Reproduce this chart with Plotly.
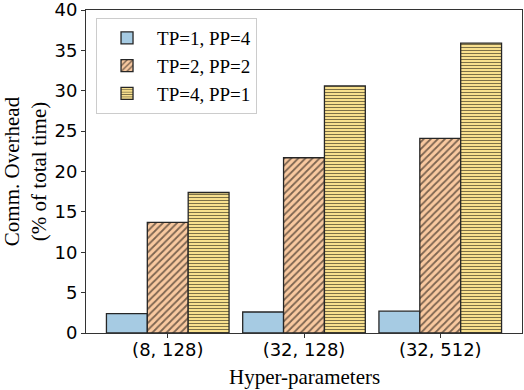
"""
Comm. overhead bar chart by hyper-parameters.
"""

import plotly.graph_objects as go

CATEGORIES = ["(8, 128)", "(32, 128)", "(32, 512)"]
SERIES_NAMES = ["TP=1, PP=4", "TP=2, PP=2", "TP=4, PP=1"]
TP1_PP4 = [2.4, 2.6, 2.7]
TP2_PP2 = [13.7, 21.7, 24.1]
TP4_PP1 = [17.4, 30.6, 35.9]
Y_TICKS = [0, 5, 10, 15, 20, 25, 30, 35, 40]

SERIF = "Liberation Serif, Times New Roman, serif"
SANS = "DejaVu Sans, sans-serif"

styles = [
    dict(color="#a6cbe3", shape=""),
    dict(color="#f9c9a0", shape="/"),
    dict(color="#f8e08e", shape="-"),
]

fig = go.Figure()
for name, vals, st in zip(SERIES_NAMES, [TP1_PP4, TP2_PP2, TP4_PP1], styles):
    pattern = dict(shape=st["shape"], fgcolor="#000000", bgcolor=st["color"],
                   fillmode="overlay", size=5 if st["shape"] == "/" else 3,
                   solidity=0.35)
    fig.add_trace(go.Bar(
        x=CATEGORIES,
        y=vals,
        name=name,
        marker=dict(color=st["color"], pattern=pattern,
                    line=dict(color="#262626", width=1.3)),
    ))

fig.update_layout(
    width=524,
    height=390,
    margin=dict(l=86, r=2, t=10, b=57),
    barmode="group",
    bargap=0.1,
    bargroupgap=0,
    plot_bgcolor="white",
    paper_bgcolor="white",
    showlegend=True,
    legend=dict(
        x=0.023, y=0.975, xanchor="left", yanchor="top",
        font=dict(family=SERIF, size=19, color="black"),
        bordercolor="#cccccc", borderwidth=1,
        bgcolor="rgba(255,255,255,0.9)",
        itemwidth=50,
        tracegroupgap=3,
    ),
    # x title placed by hand so it sits tight under the tick labels
    annotations=[dict(
        text="Hyper-parameters", xref="paper", yref="paper",
        x=0.5, y=-0.136, xanchor="center", yanchor="middle",
        showarrow=False, font=dict(family=SERIF, size=21, color="black"),
    )],
)

fig.update_xaxes(
    range=[-0.6, 2.6],
    automargin=False,
    showline=True, linecolor="#333333", linewidth=1, mirror=True,
    ticks="outside", ticklen=4, tickcolor="#333333",
    tickfont=dict(family=SANS, size=18, color="black"),
    ticklabelstandoff=-4,
    showgrid=False,
)
fig.update_yaxes(
    range=[0, 40],
    tickvals=Y_TICKS,
    automargin=False,
    ticklabeloverflow="allow",
    showline=True, linecolor="#333333", linewidth=1, mirror=True,
    ticks="outside", ticklen=4, tickcolor="#333333",
    tickfont=dict(family=SANS, size=18, color="black"),
    title=dict(text="Comm. Overhead<br>(% of total time)",
               font=dict(family=SERIF, size=21, color="black"), standoff=15),
    showgrid=False,
    zeroline=False,
)

# drop the default 8px page margin so the figure fills the window exactly
fig.write_html("out.html", config={"displayModeBar": False},
               post_script="document.body.style.margin='0';")
